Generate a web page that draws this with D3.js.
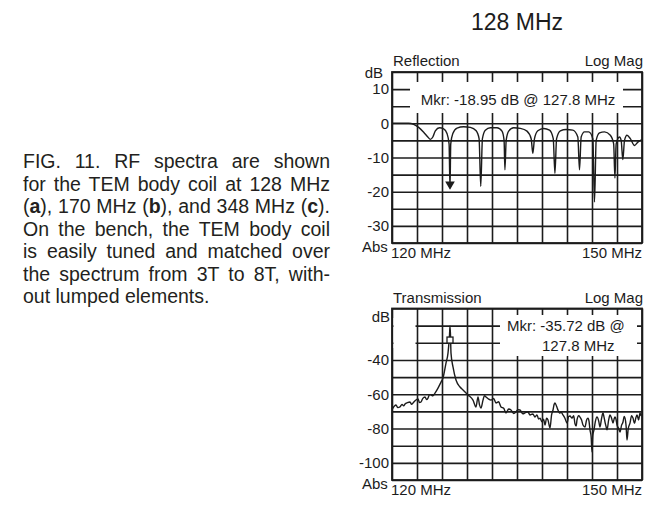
<!DOCTYPE html>
<html>
<head>
<meta charset="utf-8">
<script src="https://cdn.jsdelivr.net/npm/d3@7"></script>
<style>
  body { margin: 0; background: #fff; }
  svg { display: block; font-family: "Liberation Sans", Arial, sans-serif; }
</style>
</head>
<body>
<div id="chart"></div>
<script>
// ---- data ----
const gridFreqs = [120, 123, 126, 129, 132, 135, 138, 141, 144, 147, 150];
const freqLabels = ["120 MHz", "150 MHz"];

const reflGrid = [15, 10, 5, 0, -5, -10, -15, -20, -25, -30, -35];
const reflTicks = [10, 0, -10, -20, -30];
const transGrid = [-10, -20, -30, -40, -50, -60, -70, -80, -90, -100, -110];
const transTicks = [-40, -60, -80, -100];

// [MHz, dB]
const reflection = [
  [120.0, 0], [121.0, 0], [122.0, 0], [122.6, -0.3], [123.2, -1.2], [123.8, -2.6],
  [124.3, -4.0], [124.6, -4.7], [124.9, -4.0], [125.2, -2.2], [125.7, -1.3], [126.2, -1.6],
  [126.6, -3.0], [126.85, -6], [126.96, -19], [127.05, -6], [127.3, -3.0], [127.8, -1.4],
  [128.6, -1.0], [129.4, -1.2], [130.1, -2.2], [130.45, -4.5], [130.65, -18.4], [130.85, -4.5],
  [131.2, -2.0], [131.8, -1.3], [132.6, -1.3], [133.2, -2.3], [133.45, -5], [133.55, -13.6],
  [133.7, -5], [134.0, -2.3], [134.6, -1.3], [135.4, -1.5], [136.2, -2.3], [136.7, -4.5],
  [136.9, -8.8], [137.1, -4.5], [137.5, -2.2], [138.2, -1.5], [138.9, -2.0], [139.35, -4.5],
  [139.55, -14.6], [139.75, -4.5], [140.2, -2.2], [140.9, -1.8], [141.7, -2.0], [142.3, -4.0],
  [142.5, -13.6], [142.7, -4.0], [143.1, -2.5], [143.6, -2.5], [144.1, -4.5], [144.3, -23],
  [144.5, -5], [144.9, -2.8], [145.5, -2.5], [146.2, -3.5], [146.6, -6], [146.75, -16],
  [146.9, -6], [147.3, -4], [147.5, -5], [147.7, -10.6], [147.9, -5], [148.2, -3.5],
  [148.6, -4.5], [149.1, -6.5], [149.5, -5.5], [150.0, -4.8]
];

const transmission = [
  [120.0, -68.5], [120.12, -68.0], [120.3, -66.8], [120.48, -66.3], [120.7, -67.8], [120.96, -67.4],
  [121.2, -65.9], [121.4, -66.8], [121.56, -65.7], [121.85, -64.9], [122.16, -64.5], [122.35, -65.8],
  [122.52, -65.1], [122.8, -63.6], [123.12, -62.8], [123.3, -64.8], [123.48, -64.5], [123.7, -62.4],
  [123.96, -61.6], [124.15, -63.1], [124.32, -62.2], [124.5, -60.2], [124.68, -60.4], [124.9, -60.9],
  [125.16, -59.3], [125.52, -56.4], [125.88, -52.9], [126.12, -50.5], [126.48, -41.8], [126.72, -36],
  [126.9, -25.5], [126.96, -20.2], [127.02, -25.5], [127.08, -36], [127.32, -44.1], [127.68, -51.7],
  [128.16, -55.8], [128.52, -57.5], [129.12, -60.4], [129.72, -63.4], [130.08, -67.4], [130.32, -61.6],
  [130.5, -66.2], [130.68, -68.0], [130.92, -63.4], [131.1, -60.8], [131.28, -61.6], [131.6, -62.9],
  [131.88, -63.4], [132.2, -62.5], [132.48, -65.1], [132.8, -64.4], [133.08, -67.4], [133.4, -68.2],
  [133.68, -70.9], [134.0, -68.6], [134.28, -69.2], [134.6, -71.2], [134.88, -70.3], [135.1, -69.0],
  [135.36, -69.2], [135.7, -71.4], [135.96, -70.9], [136.3, -70.2], [136.56, -72.1], [136.9, -71.5],
  [137.16, -73.3], [137.4, -72.0], [137.6, -74.5], [137.76, -73.9], [138.0, -76.0], [138.2, -74.5],
  [138.36, -77.9], [138.55, -74.0], [138.72, -75.0], [138.96, -79.7], [139.15, -72.0], [139.32, -69.2],
  [139.45, -66.0], [139.56, -65.1], [139.75, -67.0], [139.92, -69.2], [140.1, -71.0], [140.3, -70.5],
  [140.52, -72.1], [140.75, -74.0], [141.0, -76.8], [141.2, -73.0], [141.36, -72.7], [141.6, -73.9],
  [141.8, -72.5], [141.96, -77.3], [142.1, -78.5], [142.2, -75.0], [142.4, -72.5], [142.56, -73.3],
  [142.75, -75.0], [142.92, -77.9], [143.16, -79.1], [143.35, -75.0], [143.52, -73.9], [143.65, -76.0],
  [143.76, -80.8], [143.9, -85.0], [144.0, -93.7], [144.1, -84.0], [144.24, -80.8], [144.4, -76.0],
  [144.6, -73.3], [144.8, -75.5], [144.96, -79.1], [145.15, -74.0], [145.32, -70.9], [145.45, -73.5],
  [145.56, -76.2], [145.7, -79.0], [145.8, -80.8], [146.0, -75.0], [146.16, -72.1], [146.35, -74.0],
  [146.52, -76.8], [146.65, -74.5], [146.76, -73.3], [146.9, -75.0], [147.0, -77.9], [147.2, -80.0],
  [147.36, -82.0], [147.55, -78.0], [147.72, -76.2], [147.85, -73.0], [147.96, -73.9], [148.1, -79.0],
  [148.2, -86.7], [148.35, -80.0], [148.56, -76.8], [148.75, -72.5], [148.92, -73.9], [149.1, -77.0],
  [149.25, -74.0], [149.4, -72.1], [149.6, -75.0], [149.76, -70.9], [149.9, -72.5], [150.0, -71.5]
];

const reflMarker = [126.96, -19];
const transMarker = [126.96, -28.4];

const captionLines = [
  [["FIG. 11. RF spectra are shown", false]],
  [["for the TEM body coil at 128 MHz", false]],
  [["(", false], ["a", true], ["), 170 MHz (", false], ["b", true], ["), and 348 MHz (", false], ["c", true], [").", false]],
  [["On the bench, the TEM body coil", false]],
  [["is easily tuned and matched over", false]],
  [["the spectrum from 3T to 8T, with-", false]],
  [["out lumped elements.", false]]
];

// ---- layout ----
const width = 653, height = 506;
const x0 = 392, x1 = 642;
const ink = "#1c1c1c";

const svg = d3.select("#chart").append("svg")
  .attr("width", width)
  .attr("height", height);

const x = d3.scaleLinear().domain([120, 150]).range([x0, x1]);

svg.append("text")
  .attr("x", 517).attr("y", 30)
  .attr("text-anchor", "middle")
  .attr("font-size", 23)
  .attr("fill", ink)
  .text("128 MHz");

function drawPanel(p) {
  const g = svg.append("g");
  const y = d3.scaleLinear().domain(p.domain).range([p.bottom, p.top]);
  const h = p.bottom - p.top;

  // horizontal grid
  g.append("g")
    .attr("transform", `translate(${x0},0)`)
    .call(d3.axisLeft(y).tickValues(p.grid).tickSize(-(x1 - x0)).tickFormat(""))
    .call(a => a.select(".domain").remove())
    .selectAll("line").attr("stroke", ink).attr("stroke-width", 1.6);

  // vertical grid
  g.append("g")
    .attr("transform", `translate(0,${p.bottom})`)
    .call(d3.axisBottom(x).tickValues(gridFreqs).tickSize(-h).tickFormat(""))
    .call(a => a.select(".domain").remove())
    .selectAll("line").attr("stroke", ink).attr("stroke-width", 1.6);

  g.append("rect")
    .attr("x", x0).attr("y", p.top)
    .attr("width", x1 - x0).attr("height", h)
    .attr("fill", "none").attr("stroke", ink).attr("stroke-width", 1.8);

  // blank areas where the analyser printed over the graticule
  p.covers.forEach(c => {
    g.append("rect")
      .attr("x", c[0]).attr("y", c[1]).attr("width", c[2]).attr("height", c[3])
      .attr("fill", "#fff");
  });

  // trace
  const line = d3.line()
    .x(d => x(d[0]))
    .y(d => y(d[1]))
    .curve(d3.curveMonotoneX);

  g.append("path")
    .datum(p.data)
    .attr("fill", "none")
    .attr("stroke", ink)
    .attr("stroke-width", 1.4)
    .attr("stroke-linejoin", "round")
    .attr("d", line);

  // y tick labels (plain hyphen like the analyser print)
  g.append("g")
    .attr("transform", `translate(${x0},0)`)
    .call(d3.axisLeft(y).tickValues(p.ticks).tickSize(0).tickPadding(3).tickFormat(d => String(d)))
    .call(a => a.select(".domain").remove())
    .selectAll("text")
    .attr("font-size", 15)
    .attr("font-family", "Liberation Sans, Arial, sans-serif")
    .attr("fill", ink);

  const txt = (tx, ty, s, anchor) => g.append("text")
    .attr("x", tx).attr("y", ty)
    .attr("text-anchor", anchor || "start")
    .attr("font-size", 15)
    .attr("fill", ink)
    .text(s);

  txt(x0 + 1, p.top - 6, p.title);
  txt(x1 + 1, p.top - 6, "Log Mag", "end");
  txt(p.dbX, p.dbY, "dB", "end");
  txt(362, p.bottom + 9, "Abs");
  txt(x0 - 1, p.bottom + 15, freqLabels[0]);
  txt(x1, p.bottom + 15, freqLabels[1], "end");
  p.mkr.forEach(m => txt(m[0], m[1], m[2], m[3]));

  return { g, y };
}

// Reflection panel
const reflPanel = drawPanel({
  title: "Reflection",
  domain: [-35, 15], top: 72, bottom: 243,
  grid: reflGrid, ticks: reflTicks, data: reflection,
  dbX: 383, dbY: 78,
  covers: [[410, 82, 213, 31]],
  mkr: [[518, 105, "Mkr: -18.95 dB @ 127.8 MHz", "middle"]]
});

reflPanel.g.append("path")
  .attr("d", d3.symbol(d3.symbolTriangle, 40)())
  .attr("transform", `translate(${x(reflMarker[0])},${reflPanel.y(reflMarker[1]) - 4}) rotate(180)`)
  .attr("fill", ink);

// Transmission panel
const transPanel = drawPanel({
  title: "Transmission",
  domain: [-110, -10], top: 308.5, bottom: 480,
  grid: transGrid, ticks: transTicks, data: transmission,
  dbX: 390, dbY: 322,
  covers: [[500, 315, 137, 41], [393.5, 318, 22, 30]],
  mkr: [[507, 331, "Mkr: -35.72 dB @"], [542, 351, "127.8 MHz"]]
});

transPanel.g.append("rect")
  .attr("x", x(transMarker[0]) - 3)
  .attr("y", transPanel.y(transMarker[1]) - 3)
  .attr("width", 6).attr("height", 6)
  .attr("fill", "#fff").attr("stroke", ink).attr("stroke-width", 1.3);

// ---- caption, justified by widening the word gaps ----
const capLeft = 23, capWidth = 307, capTop = 168, capStep = 22.5;
const cap = svg.append("g").attr("fill", "#231f20").attr("font-size", 19.5);

captionLines.forEach((segs, i) => {
  const t = cap.append("text")
    .attr("x", capLeft)
    .attr("y", capTop + i * capStep);
  segs.forEach(s => {
    t.append("tspan").attr("font-weight", s[1] ? "bold" : null).text(s[0]);
  });
  if (i < captionLines.length - 1) {
    const natural = t.node().getComputedTextLength();
    const gaps = segs.map(s => s[0]).join("").split(" ").length - 1;
    t.attr("word-spacing", (capWidth - natural) / gaps);
  }
});
</script>
</body>
</html>
